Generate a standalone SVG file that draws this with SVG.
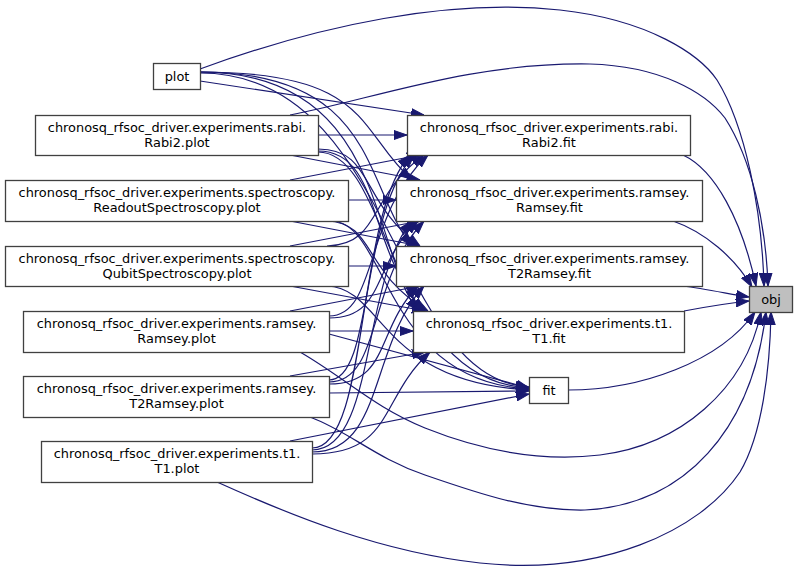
<svg xmlns="http://www.w3.org/2000/svg" width="797" height="571" viewBox="0 0 797 571">
<style>
  .n rect { fill: #ffffff; stroke: #404040; stroke-width: 1.3; }
  .n.root rect { fill: #bfbfbf; }
  .n text { font-family: "DejaVu Sans", sans-serif; font-size: 12.9px; fill: #000000; text-anchor: middle; }
  .e path { fill: none; stroke: #191970; stroke-width: 1.2; marker-end: url(#ah); }
</style>
<defs>
  <marker id="ah" viewBox="0 0 13 10" markerWidth="13" markerHeight="10" refX="13" refY="5" orient="auto" markerUnits="userSpaceOnUse">
    <path d="M0,0.5 L13,5 L0,9.5 z" fill="#191970" stroke="#191970" stroke-width="1"/>
  </marker>
</defs>
<rect width="797" height="571" fill="#ffffff"/>
<g id="edges" class="e">
  <!-- to obj -->
  <path d="M200,69 C320,25 450,-2 560,10 C650,20 700,55 717,80 C745,125 762,210 764,286"/>
  <path d="M290,115 C370,100 470,62 590,64 C660,66 705,92 725,118 C752,160 766,225 768,286"/>
  <path d="M683,155 C715,170 742,220 756,286"/>
  <path d="M673,221 C705,232 735,258 752,287"/>
  <path d="M683,286 C705,289 730,294 749,297"/>
  <path d="M684,311 C705,307 730,303 749,301"/>
  <path d="M568,390 C640,390 720,362 755,312"/>
  <path d="M300,352 C345,378 375,408 425,428 C480,450 540,462 600,455 C680,445 745,390 761,312"/>
  <path d="M310,417 C350,432 375,458 425,475 C480,494 530,511 585,510 C685,505 752,430 766,312"/>
  <path d="M217,482 C290,515 380,552 480,563 C600,576 700,532 740,472 C762,435 770,370 771,312"/>
  <!-- adjacent rows -->
  <path d="M200,81 L424,115"/>
  <path d="M290,155 L420,180"/>
  <path d="M290,180 L420,155"/>
  <path d="M290,221 L420,246"/>
  <path d="M290,246 L420,221"/>
  <path d="M290,286 L425,311"/>
  <path d="M290,311 L420,286"/>
  <path d="M329,334 L529,388"/>
  <path d="M290,376 L425,352"/>
  <path d="M290,441 L529,394"/>
  <!-- same row -->
  <path d="M318,135 L407,135"/>
  <path d="M348,200 L396,200"/>
  <path d="M348,266 L396,266"/>
  <path d="M329,331 L413,331"/>
  <path d="M329,393 L529,391"/>
  <!-- long downward -->
  <path d="M200,72 C372,72 357,131 412,180"/>
  <path d="M200,72 C378,72 363,186 412,246"/>
  <path d="M200,72 C386,72 371,251 418,311"/>
  <path d="M200,73 C396,73 391,379 529,387"/>
  <path d="M318,149 C374,149 359,202 420,246"/>
  <path d="M318,151 C382,151 367,251 424,311"/>
  <path d="M318,152 C392,152 387,380 529,388"/>
  <path d="M327,221 C376,223 361,271 428,311"/>
  <path d="M332,221 C388,223 383,381 529,389"/>
  <path d="M327,286 C384,288 379,382 529,390"/>
  <!-- long upward -->
  <path d="M327,246 C382,244 367,196 424,155"/>
  <path d="M329,316 C378,316 363,215 428,155"/>
  <path d="M329,318 C386,318 371,265 418,221"/>
  <path d="M329,380 C374,380 359,215 414,155"/>
  <path d="M329,382 C382,382 367,281 424,221"/>
  <path d="M329,384 C390,384 375,330 418,286"/>
  <path d="M312,448 C370,448 355,215 410,155"/>
  <path d="M312,450 C376,450 361,281 412,221"/>
  <path d="M312,452 C384,452 369,346 424,286"/>
  <path d="M312,454 C394,454 379,398 430,352"/>
</g>
<g id="node_obj" class="n root"><rect x="749.5" y="286.5" width="43" height="26"/><text x="771" y="304">obj</text></g>
<g id="node_plot" class="n"><rect x="153.5" y="63.5" width="47" height="26"/><text x="177" y="81">plot</text></g>
<g id="node_rabi2_plot" class="n"><rect x="35.5" y="115.5" width="283" height="40"/><text x="177" y="132">chronosq_rfsoc_driver.experiments.rabi.</text><text x="177" y="146.5">Rabi2.plot</text></g>
<g id="node_readout_plot" class="n"><rect x="5.5" y="180.5" width="343" height="41"/><text x="177" y="197">chronosq_rfsoc_driver.experiments.spectroscopy.</text><text x="177" y="211.5">ReadoutSpectroscopy.plot</text></g>
<g id="node_qubit_plot" class="n"><rect x="5.5" y="246.5" width="343" height="40"/><text x="177" y="263">chronosq_rfsoc_driver.experiments.spectroscopy.</text><text x="177" y="277.5">QubitSpectroscopy.plot</text></g>
<g id="node_ramsey_plot" class="n"><rect x="23.5" y="311.5" width="306" height="41"/><text x="176.5" y="328">chronosq_rfsoc_driver.experiments.ramsey.</text><text x="176.5" y="342.5">Ramsey.plot</text></g>
<g id="node_t2ramsey_plot" class="n"><rect x="23.5" y="376.5" width="306" height="41"/><text x="176.5" y="393">chronosq_rfsoc_driver.experiments.ramsey.</text><text x="176.5" y="407.5">T2Ramsey.plot</text></g>
<g id="node_t1_plot" class="n"><rect x="41.5" y="441.5" width="271" height="41"/><text x="177" y="458">chronosq_rfsoc_driver.experiments.t1.</text><text x="177" y="472.5">T1.plot</text></g>
<g id="node_rabi2_fit" class="n"><rect x="407.5" y="115.5" width="283" height="40"/><text x="549" y="132">chronosq_rfsoc_driver.experiments.rabi.</text><text x="549" y="146.5">Rabi2.fit</text></g>
<g id="node_ramsey_fit" class="n"><rect x="396.5" y="180.5" width="306" height="41"/><text x="549.5" y="197">chronosq_rfsoc_driver.experiments.ramsey.</text><text x="549.5" y="211.5">Ramsey.fit</text></g>
<g id="node_t2ramsey_fit" class="n"><rect x="396.5" y="246.5" width="306" height="40"/><text x="549.5" y="263">chronosq_rfsoc_driver.experiments.ramsey.</text><text x="549.5" y="277.5">T2Ramsey.fit</text></g>
<g id="node_t1_fit" class="n"><rect x="413.5" y="311.5" width="271" height="41"/><text x="549" y="328">chronosq_rfsoc_driver.experiments.t1.</text><text x="549" y="342.5">T1.fit</text></g>
<g id="node_fit" class="n"><rect x="529.5" y="377.5" width="39" height="26"/><text x="549" y="395">fit</text></g>
</svg>
